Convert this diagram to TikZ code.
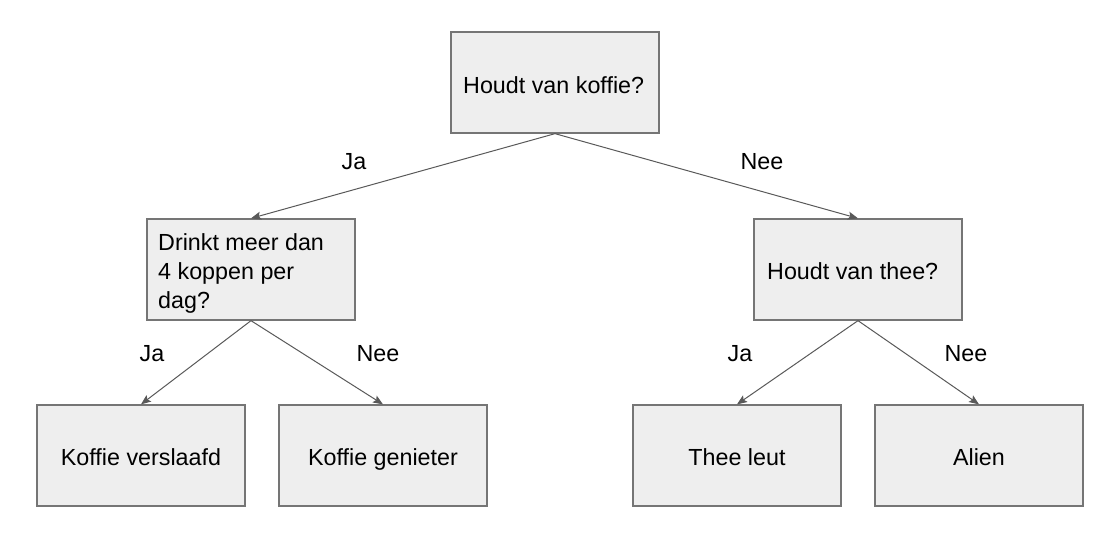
\documentclass[tikz,border=0pt]{standalone}
\usepackage{fontspec}
\setmainfont{Liberation Sans}
\usetikzlibrary{arrows.meta}
\definecolor{boxfill}{HTML}{EEEEEE}
\definecolor{boxline}{HTML}{757575}
\definecolor{arrowcol}{HTML}{595959}
\begin{document}
\begin{tikzpicture}[x=1pt,y=-1pt,
  font=\fontsize{23.3pt}{29.2pt}\selectfont,
  box/.style={draw=boxline,fill=boxfill,line width=1.3pt,minimum width=208pt,minimum height=101pt,inner sep=0pt},
  txt/.style={inner sep=0pt,anchor=base west,text=black},
  ctxt/.style={inner sep=0pt,anchor=base,text=black},
  conn/.style={draw=arrowcol,line width=1pt,-{Stealth[length=10pt,width=8pt,inset=2pt]}},
  lbl/.style={inner sep=0pt,anchor=base,text=black}]
\useasboundingbox (0,0) rectangle (1115,541);
% boxes
\node[box] (root) at (555,82.5) {};
\node[box] (lm) at (251,269.5) {};
\node[box] (rm) at (858,269.5) {};
\node[box] (l1) at (141,455.5) {};
\node[box] (l2) at (383,455.5) {};
\node[box] (l3) at (737,455.5) {};
\node[box] (l4) at (979,455.5) {};
% texts
\node[txt] (troot) at (463,93) {Houdt van koffie?};
\node[txt] (tlm) at (158,250) {\vtop{\baselineskip=29.2pt\hbox{Drinkt meer dan}\hbox{4 koppen per}\hbox{dag?}}};
\node[txt] (trm) at (767,279) {Houdt van thee?};
\node[ctxt] (tl1) at (141,465) {Koffie verslaafd};
\node[ctxt] (tl2) at (383,465) {Koffie genieter};
\node[ctxt] (tl3) at (737,465) {Thee leut};
\node[ctxt] (tl4) at (979,465) {Alien};
% connectors
\draw[conn] (root.south) -- (lm.north);
\draw[conn] (root.south) -- (rm.north);
\draw[conn] (lm.south) -- (l1.north);
\draw[conn] (lm.south) -- (l2.north);
\draw[conn] (rm.south) -- (l3.north);
\draw[conn] (rm.south) -- (l4.north);
% labels
\node[lbl] (ja1) at (354,169) {Ja};
\node[lbl] (nee1) at (762,169) {Nee};
\node[lbl] (ja2) at (152,361.5) {Ja};
\node[lbl] (nee2) at (378,361.5) {Nee};
\node[lbl] (ja3) at (740,361.5) {Ja};
\node[lbl] (nee3) at (966,361.5) {Nee};
\end{tikzpicture}
\end{document}
